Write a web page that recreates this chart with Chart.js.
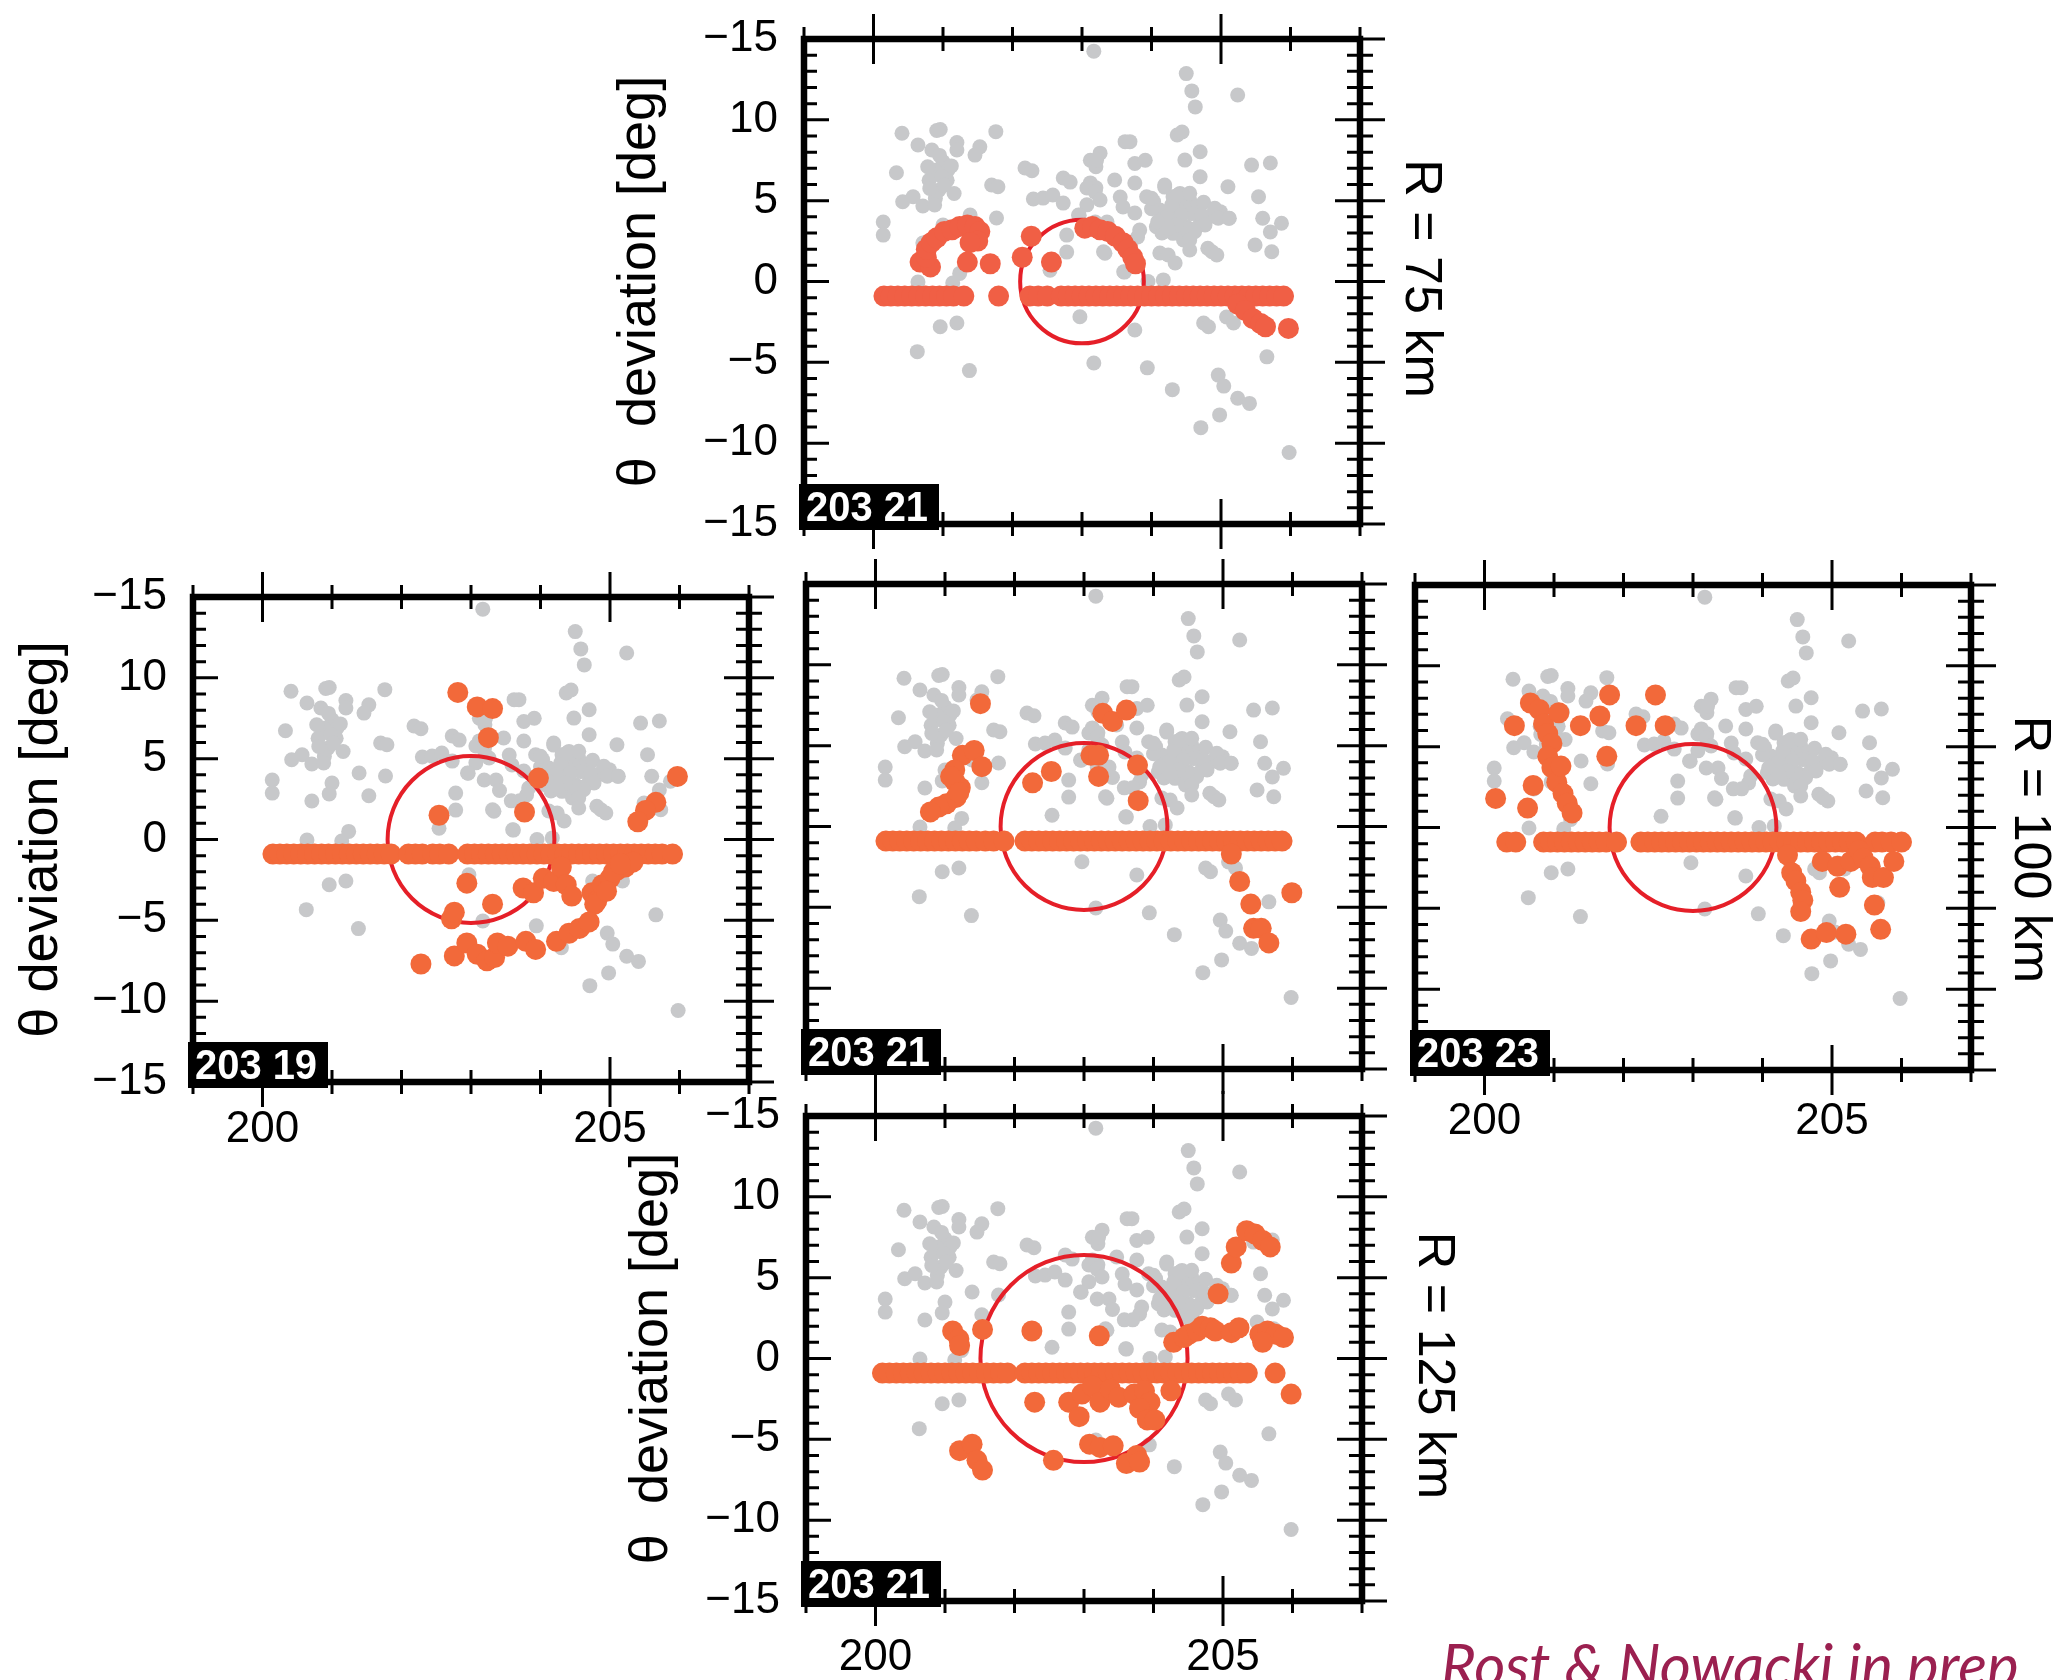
<!DOCTYPE html>
<html>
<head>
<meta charset="utf-8">
<script src="https://cdn.jsdelivr.net/npm/chart.js@4.4.1/dist/chart.umd.min.js"></script>
<style>
  html, body { margin: 0; padding: 0; background: #fff; }
  body { width: 2064px; height: 1680px; position: relative; overflow: hidden; }
  canvas { position: absolute; }
  #credit { position: absolute; left: 1441px; top: 1628px; font: italic 60px Lato, "Open Sans", sans-serif; color: #9b2050; white-space: nowrap; }
</style>
</head>
<body>
<canvas id="p75"></canvas>
<canvas id="p19"></canvas>
<canvas id="p21"></canvas>
<canvas id="p23"></canvas>
<canvas id="p125"></canvas>
<div id="credit">Rost &amp; Nowacki in prep</div>
<script>
// axes
const xTicks = [199, 200, 201, 202, 203, 204, 205, 206, 207];
const xLabelTicks = [200, 205];
const yTickValues = [-15, -10, -5, 0, 5, 10, 15];
const yTickLabels = ['−15', '−10', '−5', '0', '5', '10', '−15'];

// all observations (same cloud in every panel)
const greyPts = [
  // upper outliers
  [203.17, 14.25], [204.50, 12.86], [204.58, 11.79], [204.63, 10.8], [205.24, 11.54],
  // western cluster
  [200.41, 9.17], [200.91, 9.34], [200.96, 9.40], [201.76, 9.27], [200.64, 8.44],
  [200.84, 8.13], [201.20, 8.60], [201.20, 8.13], [201.53, 8.33], [201.46, 7.82],
  [200.33, 6.73], [201.00, 7.40], [201.07, 6.88], [200.88, 6.88], [200.80, 6.26],
  [201.06, 6.26], [201.16, 5.44], [200.94, 5.64], [200.89, 5.13], [200.81, 5.75],
  [200.95, 7.80], [200.78, 7.10], [201.12, 7.15], [200.98, 6.50], [201.02, 5.95],
  [200.42, 4.93], [200.57, 5.24], [200.71, 4.67], [200.88, 4.73], [201.70, 5.97],
  [201.79, 5.86], [200.14, 3.68], [200.14, 2.87], [201.39, 4.11], [201.77, 3.93],
  [201.00, 3.49], [201.53, 2.71], [200.96, 2.82], [200.71, 2.38], [201.24, 0.50],
  [201.14, -0.10], [200.64, -0.03],
  // central band
  [202.18, 7.02], [202.28, 6.85], [202.30, 5.10], [202.44, 5.16], [202.58, 5.35],
  [202.73, 6.40], [202.83, 6.15], [202.73, 4.85], [202.78, 2.87], [202.78, 1.82],
  [202.95, 4.11], [202.54, 0.70], [203.12, 7.50], [203.20, 7.10], [203.12, 6.10],
  [203.20, 5.80], [203.26, 7.94], [203.21, 7.51], [203.62, 8.65], [203.69, 8.65],
  [203.76, 7.30], [203.91, 7.50], [203.47, 6.28], [203.76, 6.09], [204.19, 5.84],
  [203.07, 5.78], [203.19, 5.53], [203.26, 5.04], [203.55, 5.23], [203.59, 4.61],
  [203.76, 4.24], [203.07, 4.74], [202.96, 4.10], [203.19, 3.68], [203.36, 3.68],
  [203.41, 3.03], [203.33, 1.75], [203.83, 3.18], [203.80, 2.75], [203.31, 1.84],
  [203.60, 0.60], [203.58, 2.39], [203.70, 2.39], [203.61, 0.58],
  // eastern cluster
  [203.93, 5.24], [204.03, 4.94], [204.12, 4.42], [204.31, 5.24], [204.41, 5.45],
  [204.55, 5.04], [204.65, 4.63], [204.46, 4.63], [204.31, 4.22], [204.41, 3.80],
  [204.17, 3.60], [204.07, 3.39], [204.50, 3.39], [204.70, 3.60], [204.89, 4.22],
  [204.99, 4.32], [205.11, 3.91], [204.31, 2.98], [204.46, 2.57], [204.55, 2.98],
  [204.22, 4.00], [204.58, 4.20], [204.37, 4.95], [204.80, 3.90], [204.62, 3.25],
  [204.15, 3.00], [204.75, 4.90], [204.00, 4.50],
  [204.29, 4.73], [204.43, 4.12], [204.72, 4.12], [204.91, 4.53], [204.96, 3.91],
  [204.77, 3.50], [204.62, 3.08], [204.48, 3.29], [204.36, 3.50], [204.09, 3.70],
  [204.24, 3.29], [204.55, 2.57], [204.81, 2.06], [204.00, 5.15], [204.19, 5.97],
  [205.12, 3.91], [204.38, 5.35], [204.55, 5.46],
  [204.37, 9.06], [204.44, 9.25], [204.70, 8.03], [204.48, 7.51], [204.70, 6.48],
  [205.44, 7.20], [205.71, 7.33], [205.10, 5.86], [205.54, 5.24], [205.60, 3.91],
  [205.87, 3.60], [205.71, 3.06], [205.49, 2.26], [205.73, 1.84], [204.12, 1.76],
  [204.24, 1.64], [204.34, 1.14], [204.55, 1.95], [204.87, 1.84], [204.94, 1.64],
  [203.95, 0.00], [204.17, 0.10],
  // lower half
  [202.97, -2.18], [203.76, -3.00], [203.94, -5.34], [204.30, -6.69], [203.17, -5.04],
  [204.75, -2.57], [204.82, -2.80], [205.08, -2.20], [205.18, -2.57], [204.96, -5.79],
  [205.04, -6.47], [205.24, -7.22], [205.41, -7.54], [204.98, -8.25], [204.71, -9.04],
  [205.66, -4.66], [205.98, -10.58], [200.96, -2.80], [201.20, -2.57], [200.63, -4.34],
  [201.38, -5.51]
];

// orange picks: the flat row sits at rowY, the rest are listed as pairs
const rowY = -0.9;

const row75 = [200.15, 200.25, 200.35, 200.45, 200.55, 200.65, 200.75, 200.85, 200.95, 201.05,
  201.15, 201.3, 201.8, 202.25, 202.37, 202.5, 202.7, 202.8, 202.9, 203.0, 203.1, 203.2,
  203.3, 203.4, 203.5, 203.6, 203.7, 203.8, 203.9, 204.0, 204.1, 204.2, 204.3, 204.4,
  204.5, 204.6, 204.7, 204.8, 204.9, 205.0, 205.1, 205.2, 205.3, 205.4, 205.5, 205.6,
  205.7, 205.8, 205.9];
const off75 = [
  [200.67, 1.2], [200.82, 0.9], [200.76, 1.5], [200.76, 2.0], [200.83, 2.4], [200.91, 2.7],
  [201.02, 3.1], [201.13, 3.2], [201.24, 3.4], [201.35, 3.5], [201.46, 3.4], [201.53, 3.1],
  [201.5, 2.5], [201.39, 2.4], [201.35, 1.2], [201.68, 1.1], [202.27, 2.8], [202.14, 1.5],
  [202.56, 1.2], [203.04, 3.3], [203.15, 3.4], [203.26, 3.2], [203.37, 3.1], [203.48, 2.8],
  [203.59, 2.4], [203.66, 2.0], [203.73, 1.5], [203.77, 1.1], [205.24, -1.4], [205.35, -1.8],
  [205.46, -2.3], [205.57, -2.6], [205.64, -2.8], [205.97, -2.9]
];

const row19 = [200.15, 200.25, 200.35, 200.45, 200.55, 200.65, 200.75, 200.85, 200.95, 201.05,
  201.15, 201.25, 201.35, 201.45, 201.55, 201.65, 201.75, 201.85, 202.1, 202.2, 202.3,
  202.45, 202.55, 202.68, 202.95, 203.05, 203.15, 203.25, 203.35, 203.45, 203.55, 203.65,
  203.75, 203.85, 203.95, 204.05, 204.15, 204.25, 204.35, 204.45, 204.55, 204.65, 204.75,
  204.85, 204.95, 205.05, 205.15, 205.25, 205.35, 205.45, 205.55, 205.65, 205.75, 205.9];
const off19 = [
  [202.81, 9.1], [203.09, 8.2], [203.31, 8.1], [203.25, 6.3], [203.97, 3.8], [205.97, 3.9],
  [205.66, 2.3], [205.51, 1.8], [205.4, 1.1], [202.54, 1.5], [203.77, 1.7], [202.94, -2.7],
  [203.31, -4.0], [203.75, -3.0], [203.9, -3.3], [204.04, -2.4], [204.19, -2.6], [204.3, -1.7],
  [204.37, -2.8], [204.45, -3.5], [204.74, -3.3], [204.81, -3.8], [204.89, -2.8], [205.0, -2.4],
  [205.1, -1.9], [205.22, -1.7], [205.33, -1.4], [204.78, -4.0], [205.05, -2.0], [204.95, -3.2],
  [205.15, -1.5], [202.72, -4.9], [202.76, -4.5], [202.28, -7.7], [202.76, -7.2], [202.94, -6.4],
  [203.09, -7.1], [203.23, -7.5], [203.34, -7.3], [203.38, -6.4], [203.53, -6.6], [203.79, -6.3],
  [203.93, -6.8], [204.23, -6.3], [204.41, -5.8], [204.56, -5.5], [204.7, -5.1]
];

const row21 = [200.15, 200.25, 200.35, 200.45, 200.55, 200.65, 200.75, 200.85, 200.95, 201.05,
  201.15, 201.25, 201.35, 201.45, 201.58, 201.7, 201.85, 202.15, 202.25, 202.35, 202.45,
  202.55, 202.65, 202.75, 202.85, 202.95, 203.05, 203.15, 203.25, 203.35, 203.45, 203.55,
  203.65, 203.75, 203.85, 203.95, 204.05, 204.15, 204.25, 204.35, 204.45, 204.55, 204.65,
  204.75, 204.85, 204.95, 205.05, 205.15, 205.25, 205.35, 205.45, 205.55, 205.65, 205.75,
  205.85];
const off21 = [
  [201.51, 7.6], [201.25, 4.4], [201.42, 4.7], [201.53, 3.7], [201.14, 3.5], [201.14, 2.8],
  [201.22, 2.4], [201.16, 1.8], [201.02, 1.4], [200.91, 1.2], [200.79, 0.9], [201.08, 3.1],
  [201.2, 2.1], [202.26, 2.7], [202.53, 3.4], [203.1, 4.4], [203.21, 4.4], [203.21, 3.1],
  [203.27, 7.0], [203.41, 6.5], [203.61, 7.2], [203.77, 3.8], [203.78, 1.6], [205.12, -1.7],
  [205.24, -3.4], [205.4, -4.8], [205.44, -6.3], [205.55, -6.3], [205.66, -7.2], [205.99, -4.1]
];

const row23 = [200.32, 200.45, 200.85, 200.95, 201.05, 201.15, 201.25, 201.35, 201.45, 201.55,
  201.65, 201.75, 201.9, 202.25, 202.35, 202.45, 202.55, 202.65, 202.75, 202.85, 202.95,
  203.05, 203.15, 203.25, 203.35, 203.45, 203.55, 203.65, 203.75, 203.85, 203.95, 204.05,
  204.15, 204.25, 204.35, 204.45, 204.55, 204.65, 204.75, 204.85, 204.95, 205.05, 205.15,
  205.25, 205.35, 205.62, 205.72, 205.85, 206.0];
const off23 = [
  [200.66, 7.7], [200.79, 7.3], [200.85, 6.4], [200.91, 5.8], [200.97, 5.2], [200.91, 4.4],
  [200.97, 3.7], [201.04, 2.8], [201.13, 2.1], [201.19, 1.5], [201.26, 0.9], [201.07, 7.1],
  [201.1, 3.8], [200.43, 6.3], [200.16, 1.8], [200.62, 1.2], [200.7, 2.6], [201.38, 6.3],
  [201.66, 6.9], [201.8, 8.2], [201.76, 4.4], [202.18, 6.3], [202.46, 8.2], [202.6, 6.3],
  [204.36, -1.7], [204.42, -2.8], [204.48, -3.3], [204.55, -4.0], [204.58, -4.5], [204.55, -5.2],
  [204.7, -6.9], [204.92, -6.5], [205.2, -6.6], [204.86, -2.1], [205.08, -2.4], [205.27, -2.1],
  [205.39, -1.4], [205.45, -1.9], [205.55, -2.4], [205.58, -3.1], [205.74, -3.1], [205.89, -2.1],
  [205.11, -3.7], [205.61, -4.8], [205.7, -6.3]
];

const row125 = [200.1, 200.2, 200.3, 200.4, 200.5, 200.6, 200.7, 200.8, 200.9, 201.0, 201.1,
  201.2, 201.3, 201.4, 201.5, 201.6, 201.7, 201.8, 201.9, 202.15, 202.25, 202.35, 202.45,
  202.55, 202.65, 202.75, 202.85, 202.95, 203.05, 203.15, 203.25, 203.35, 203.45, 203.55,
  203.65, 203.75, 203.85, 203.95, 204.05, 204.15, 204.25, 204.35, 204.45, 204.55, 204.65,
  204.75, 204.85, 204.95, 205.05, 205.15, 205.25, 205.35, 205.75];
const off125 = [
  [201.11, 1.7], [201.2, 1.2], [201.21, 0.8], [201.54, 1.8], [202.25, 1.7], [203.22, 1.4],
  [204.29, 1.0], [204.44, 1.3], [204.51, 1.5], [204.63, 1.7], [204.7, 2.0], [204.82, 1.9],
  [204.89, 1.7], [205.12, 1.6], [205.23, 1.9], [204.93, 4.0], [205.12, 5.9], [205.19, 6.9],
  [205.34, 7.9], [205.46, 7.7], [205.57, 7.3], [205.68, 6.9], [205.53, 1.5], [205.64, 1.7],
  [205.76, 1.5], [205.87, 1.3], [205.57, 1.0], [205.98, -2.2], [202.29, -2.7], [202.78, -2.7],
  [202.97, -2.2], [203.12, -1.7], [203.23, -2.7], [203.38, -1.9], [203.5, -2.4], [203.72, -2.2],
  [203.87, -2.0], [203.95, -2.7], [202.93, -3.6], [203.8, -3.1], [203.91, -3.8], [204.02, -3.8],
  [204.25, -2.0], [201.21, -5.7], [201.39, -5.3], [201.46, -6.3], [201.54, -6.9], [202.56, -6.3],
  [203.08, -5.3], [203.23, -5.5], [203.42, -5.4], [203.61, -6.5], [203.76, -6.0], [203.8, -6.4]
];

// search ring around the station, radius in x-axis degrees
const ringCenter = [203, 0];
const ringRadius75 = 0.89;
const ringRadius100 = 1.2;
const ringRadius125 = 1.49;

// canvas margins around the plot frame
const ML = 200, MR = 130, MT = 60, MB = 100;
const FW = 556, FH = 485;
const FONT = '"Liberation Sans", Arial, Helvetica, sans-serif';

const panels = [
  { id: 'p75', left: 804, top: 39, row: row75, off: off75, ring: ringRadius75, color: '#f05f45',
    station: '203 21', yTitle: 'θ  deviation [deg]', titlePad: 9, yLabels: true, xLabels: false,
    rLabel: 'R = 75 km', rdx: 60, rdy: -3 },
  { id: 'p19', left: 193, top: 597, row: row19, off: off19, ring: ringRadius100, color: '#f2693a',
    station: '203 19', yTitle: 'θ deviation [deg]', titlePad: 22, yLabels: true, xLabels: true, xPad: 21 },
  { id: 'p21', left: 806, top: 584, row: row21, off: off21, ring: ringRadius100, color: '#f2693a',
    station: '203 21', yLabels: false, xLabels: false },
  { id: 'p23', left: 1415, top: 585, row: row23, off: off23, ring: ringRadius100, color: '#f2693a',
    station: '203 23', yLabels: false, xLabels: true, xPad: 25,
    rLabel: 'R = 100 km', rdx: 58, rdy: 22 },
  { id: 'p125', left: 806, top: 1116, row: row125, off: off125, ring: ringRadius125, color: '#f2693a',
    station: '203 21', yTitle: 'θ  deviation [deg]', titlePad: 19, yLabels: true, xLabels: true, xPad: 30,
    rLabel: 'R = 125 km', rdx: 71, rdy: 7 }
];

// GMT-like frame: thick box, ticks every degree, station tag and radius label
const gmtFrame = {
  id: 'gmtFrame',
  afterDatasetDraw(chart, args, opts) {
    if (chart.data.datasets[args.index].label !== 'all') return;
    const xs = chart.scales.x, ys = chart.scales.y, ctx = chart.ctx;
    const cx = xs.getPixelForValue(ringCenter[0]);
    const cy = ys.getPixelForValue(ringCenter[1]);
    const r = Math.abs(xs.getPixelForValue(ringCenter[0] + opts.ring) - cx);
    ctx.save();
    ctx.beginPath();
    ctx.arc(cx, cy, r, 0, Math.PI * 2);
    ctx.strokeStyle = '#e51f28';
    ctx.lineWidth = 4;
    ctx.stroke();
    ctx.restore();
  },
  afterDraw(chart, args, opts) {
    const ctx = chart.ctx, a = chart.chartArea;
    const xs = chart.scales.x, ys = chart.scales.y;
    ctx.save();
    ctx.strokeStyle = '#000';
    ctx.lineWidth = 3;
    ctx.beginPath();
    xTicks.forEach(v => {
      const px = xs.getPixelForValue(v);
      const len = xLabelTicks.includes(v) ? 25 : 12;
      ctx.moveTo(px, a.top - len); ctx.lineTo(px, a.top + len);
      ctx.moveTo(px, a.bottom - len); ctx.lineTo(px, a.bottom + len);
    });
    for (let v = -15; v <= 15; v++) {
      const py = ys.getPixelForValue(v);
      const len = v % 5 === 0 ? 25 : 13;
      ctx.moveTo(a.left, py); ctx.lineTo(a.left + len, py);
      ctx.moveTo(a.right - len, py); ctx.lineTo(a.right + len, py);
    }
    ctx.stroke();
    ctx.lineWidth = 6.5;
    ctx.strokeRect(a.left, a.top, a.right - a.left, a.bottom - a.top);

    // station tag
    ctx.fillStyle = '#000';
    ctx.fillRect(a.left - 5, a.bottom - 40, 140, 46);
    ctx.fillStyle = '#fff';
    ctx.font = 'bold 42px ' + FONT;
    ctx.textAlign = 'left';
    ctx.textBaseline = 'middle';
    ctx.save();
    ctx.translate(a.left + 2, a.bottom - 15);
    ctx.scale(0.95, 1);
    ctx.fillText(opts.station, 0, 0);
    ctx.restore();

    if (opts.rLabel) {
      ctx.translate(a.right + opts.rdx, (a.top + a.bottom) / 2 + opts.rdy);
      ctx.rotate(Math.PI / 2);
      ctx.fillStyle = '#000';
      ctx.font = '52px ' + FONT;
      ctx.textAlign = 'center';
      ctx.fillText(opts.rLabel, 0, 0);
    }
    ctx.restore();
  }
};

function makePanel(p) {
  const cv = document.getElementById(p.id);
  cv.width = ML + FW + MR;
  cv.height = MT + FH + MB;
  cv.style.left = (p.left - ML) + 'px';
  cv.style.top = (p.top - MT) + 'px';

  const orange = p.row.map(x => ({ x: x, y: rowY }))
    .concat(p.off.map(d => ({ x: d[0], y: d[1] })));
  const grey = greyPts.map(d => ({ x: d[0], y: d[1] }));

  return new Chart(cv, {
    type: 'scatter',
    data: {
      datasets: [
        { label: 'picked', data: orange, order: 1, pointRadius: 10.5, pointBorderWidth: 0,
          pointBackgroundColor: p.color, pointHoverRadius: 10.5 },
        { label: 'all', data: grey, order: 2, pointRadius: 7.5, pointBorderWidth: 0,
          pointBackgroundColor: '#c7c8ca', pointHoverRadius: 7.5 }
      ]
    },
    options: {
      responsive: false,
      animation: false,
      devicePixelRatio: 1,
      events: [],
      layout: { padding: { top: MT, left: 0, right: 0, bottom: 0 } },
      plugins: {
        legend: { display: false },
        tooltip: { enabled: false },
        gmtFrame: { station: p.station, ring: p.ring, rLabel: p.rLabel, rdx: p.rdx, rdy: p.rdy }
      },
      scales: {
        x: {
          type: 'linear', position: 'bottom', min: 199, max: 207,
          afterFit(s) { s.height = MB; },
          afterBuildTicks(s) { s.ticks = xLabelTicks.map(v => ({ value: v })); },
          grid: { display: false, drawTicks: false },
          border: { display: false },
          ticks: { display: p.xLabels, padding: p.xPad || 0, maxRotation: 0, autoSkip: false,
            color: '#000', font: { family: FONT, size: 44 }, callback: v => String(v) }
        },
        y: {
          type: 'linear', position: 'left', min: -15, max: 15,
          afterFit(s) { s.width = ML; },
          afterBuildTicks(s) { s.ticks = yTickValues.map(v => ({ value: v })); },
          grid: { display: false, drawTicks: false },
          border: { display: false },
          ticks: { display: p.yLabels, padding: 26, color: '#000', font: { family: FONT, size: 44 },
            callback: v => yTickLabels[yTickValues.indexOf(v)] },
          title: { display: !!p.yTitle, text: p.yTitle || '', color: '#000',
            font: { family: FONT, size: 54, lineHeight: 1 }, padding: { top: p.titlePad || 0, bottom: 0 } }
        },
        y2: {
          type: 'linear', position: 'right', min: -15, max: 15,
          afterFit(s) { s.width = MR; },
          grid: { display: false, drawTicks: false },
          border: { display: false },
          ticks: { display: false }
        }
      }
    },
    plugins: [gmtFrame]
  });
}

panels.forEach(makePanel);
</script>
</body>
</html>
